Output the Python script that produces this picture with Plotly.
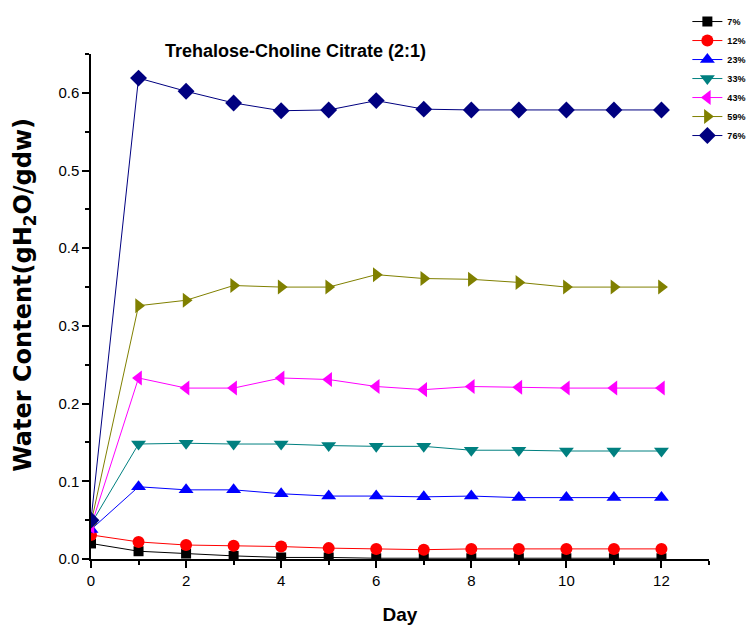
import plotly.graph_objects as go

days = list(range(13))
labels = ["7%", "12%", "23%", "33%", "43%", "59%", "76%"]
s7 = [0.020, 0.010, 0.007, 0.004, 0.002, 0.002, 0.001, 0.001, 0.001, 0.001, 0.001, 0.001, 0.001]
s12 = [0.031, 0.022, 0.018, 0.017, 0.016, 0.014, 0.013, 0.012, 0.013, 0.013, 0.013, 0.013, 0.013]
s23 = [0.038, 0.093, 0.089, 0.089, 0.084, 0.081, 0.081, 0.080, 0.081, 0.079, 0.079, 0.079, 0.079]
s33 = [0.045, 0.148, 0.149, 0.148, 0.148, 0.146, 0.145, 0.145, 0.140, 0.140, 0.139, 0.139, 0.139]
s43 = [0.042, 0.233, 0.220, 0.220, 0.233, 0.231, 0.222, 0.218, 0.222, 0.221, 0.220, 0.220, 0.220]
s59 = [0.046, 0.326, 0.333, 0.352, 0.350, 0.350, 0.366, 0.361, 0.360, 0.356, 0.350, 0.350, 0.350]
s76 = [0.050, 0.619, 0.602, 0.587, 0.577, 0.578, 0.590, 0.579, 0.578, 0.578, 0.578, 0.578, 0.578]
series = [s7, s12, s23, s33, s43, s59, s76]

colors = ["#000000", "#FF0000", "#0000FF", "#008080", "#FF00FF", "#808000", "#000080"]
symbols = ["square", "circle", "triangle-up", "triangle-down", "triangle-left", "triangle-right", "diamond"]
sizes = [10, 12, 13, 13, 13, 13, 13]

fig = go.Figure()
for lab, ys, c, sym, sz in zip(labels, series, colors, symbols, sizes):
    fig.add_trace(go.Scatter(
        x=days, y=ys, name=lab, mode="lines+markers",
        line=dict(color=c, width=1),
        marker=dict(color=c, symbol=sym, size=sz, line=dict(width=0)),
    ))

fig.update_layout(
    width=753, height=630,
    margin=dict(l=91, r=44, t=54, b=71, autoexpand=False),
    paper_bgcolor="white", plot_bgcolor="white",
    font=dict(family="Liberation Sans, Arial, sans-serif", color="black"),
    showlegend=True,
    legend=dict(x=0.965, y=1.093, xanchor="left", yanchor="top",
                font=dict(size=9, family="Liberation Sans, Arial", color="black", weight="bold"),
                bgcolor="rgba(0,0,0,0)", itemwidth=30, tracegroupgap=0),
    xaxis=dict(range=[0, 13], tickvals=[0, 2, 4, 6, 8, 10, 12], showgrid=False, zeroline=False,
               showline=True, linecolor="black", linewidth=1.5, ticks="outside", ticklen=7, tickwidth=1.5,
               tickcolor="black", tickfont=dict(size=15),
               minor=dict(tickvals=[1, 3, 5, 7, 9, 11, 13], ticks="outside", ticklen=4, tickwidth=1.5, tickcolor="black"),
               title=dict(text="<b>Day</b>", font=dict(size=19), standoff=20)),
    yaxis=dict(range=[0, 0.65], tickvals=[0, 0.1, 0.2, 0.3, 0.4, 0.5, 0.6], tickformat=".1f",
               showgrid=False, zeroline=False,
               showline=True, linecolor="black", linewidth=1.5, ticks="outside", ticklen=7, tickwidth=1.5,
               tickcolor="black", tickfont=dict(size=15),
               minor=dict(tickvals=[0.05, 0.15, 0.25, 0.35, 0.45, 0.55, 0.65], ticks="outside", ticklen=4, tickwidth=1.5, tickcolor="black")),
    annotations=[
        dict(text="<b>Trehalose-Choline Citrate (2:1)</b>", x=0.117, y=1.006, xref="paper", yref="paper",
             xanchor="left", yanchor="middle", showarrow=False, font=dict(size=18)),
        dict(text="<b>Water Content(gH<sub>2</sub>O/gdw)</b>", x=-0.107, y=0.523, xref="paper", yref="paper",
             xanchor="center", yanchor="middle", textangle=-90, showarrow=False,
             font=dict(size=24, family="DejaVu Sans, sans-serif")),
    ],
)

fig.write_html("out.html")
